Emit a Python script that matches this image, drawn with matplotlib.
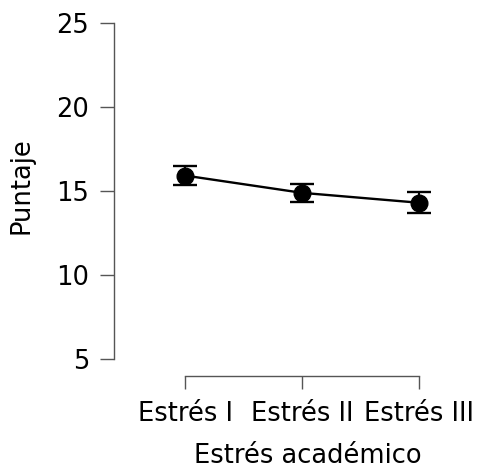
import matplotlib.pyplot as plt
import numpy as np

categories = ['Estrés I', 'Estrés II', 'Estrés III']
means = [15.93, 14.90, 14.31]
errors = [0.57, 0.53, 0.63]
yticks = [5, 10, 15, 20, 25]

plt.rcParams['font.family'] = ['DejaVu Sans']
fs = 18.5

fig = plt.figure(figsize=(4.78, 4.72), dpi=100)
# axes box in pixels: left 114, right 460, top 23.3, bottom 376
W, H = 478, 472
ax = fig.add_axes([114 / W, 1 - 376 / H, (460 - 114) / W, (376 - 23.3) / H])

x = np.arange(len(categories))
ax.errorbar(x, means, yerr=errors, color='black', marker='o', markersize=12,
            linewidth=1.7, elinewidth=1.5, capsize=8.3, capthick=1.7)

ax.set_xlim(-0.607, 2 + (460 - 419) / 117)
ax.set_ylim(5 - 17 / 16.79, 25)

ax.set_xticks(x)
ax.set_xticklabels(categories, fontsize=fs)
ax.set_yticks(yticks)
ax.set_yticklabels([str(t) for t in yticks], fontsize=fs)

for s in ['top', 'right']:
    ax.spines[s].set_visible(False)
ax.spines['left'].set_bounds(5, 25)
ax.spines['bottom'].set_bounds(0, 2)
for s in ['left', 'bottom']:
    ax.spines[s].set_color('#555555')
    ax.spines[s].set_linewidth(1.0)
ax.tick_params(axis='y', length=10, width=1.0, color='#555555', pad=8)
ax.tick_params(axis='x', length=9, width=1.0, color='#555555', pad=9)

ax.set_xlabel('Estrés académico', fontsize=fs)
ax.set_ylabel('Puntaje', fontsize=fs)
ax.xaxis.set_label_coords((1.05 + 0.607) / (2.607 + 41 / 117), -0.19)
ax.yaxis.set_label_coords(-0.231, 0.539)

fig.savefig('out.png', dpi=100)
